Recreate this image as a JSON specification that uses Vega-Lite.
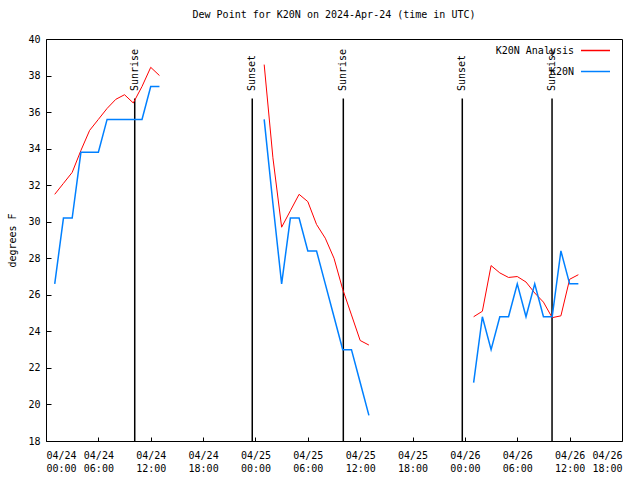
{
  "$schema": "https://vega.github.io/schema/vega-lite/v6.json",
  "width": 576,
  "height": 402,
  "autosize": {"type": "none"},
  "padding": {"left": 46, "top": 39, "right": 18, "bottom": 39},
  "background": "white",
  "title": {"text": "Dew Point for K20N on 2024-Apr-24 (time in UTC)", "font": "DejaVu Sans Mono", "fontSize": 10, "fontWeight": "normal", "color": "black", "anchor": "middle", "offset": 14},
  "config": {
    "view": {"stroke": "black", "strokeWidth": 1},
    "style": {"guide-label": {"lineBreak": "\n"}},
    "axisY": {"tickCount": 11, "tickSize": -5, "domain": false, "grid": false, "tickColor": "black", "labelFont": "DejaVu Sans Mono", "labelFontSize": 10, "labelColor": "black", "labelPadding": 11}
  },
  "datasets": {
    "events": [
      {"t": "2024-04-24T10:10:00Z", "label": "Sunrise"},
      {"t": "2024-04-24T23:38:00Z", "label": "Sunset"},
      {"t": "2024-04-25T10:04:00Z", "label": "Sunrise"},
      {"t": "2024-04-25T23:42:00Z", "label": "Sunset"},
      {"t": "2024-04-26T09:59:00Z", "label": "Sunrise"}
    ],
    "dew": [
      {"t": "2024-04-24T01:00:00Z", "s": "K20N Analysis", "g": 1, "v": 31.5},
      {"t": "2024-04-24T02:00:00Z", "s": "K20N Analysis", "g": 1, "v": 32.1},
      {"t": "2024-04-24T03:00:00Z", "s": "K20N Analysis", "g": 1, "v": 32.7},
      {"t": "2024-04-24T04:00:00Z", "s": "K20N Analysis", "g": 1, "v": 33.9},
      {"t": "2024-04-24T05:00:00Z", "s": "K20N Analysis", "g": 1, "v": 35.0},
      {"t": "2024-04-24T06:00:00Z", "s": "K20N Analysis", "g": 1, "v": 35.6},
      {"t": "2024-04-24T07:00:00Z", "s": "K20N Analysis", "g": 1, "v": 36.2},
      {"t": "2024-04-24T08:00:00Z", "s": "K20N Analysis", "g": 1, "v": 36.7},
      {"t": "2024-04-24T09:00:00Z", "s": "K20N Analysis", "g": 1, "v": 36.95},
      {"t": "2024-04-24T10:00:00Z", "s": "K20N Analysis", "g": 1, "v": 36.5},
      {"t": "2024-04-24T11:00:00Z", "s": "K20N Analysis", "g": 1, "v": 37.4},
      {"t": "2024-04-24T12:00:00Z", "s": "K20N Analysis", "g": 1, "v": 38.45},
      {"t": "2024-04-24T13:00:00Z", "s": "K20N Analysis", "g": 1, "v": 38.0},
      {"t": "2024-04-25T01:00:00Z", "s": "K20N Analysis", "g": 2, "v": 38.6},
      {"t": "2024-04-25T02:00:00Z", "s": "K20N Analysis", "g": 2, "v": 33.5},
      {"t": "2024-04-25T03:00:00Z", "s": "K20N Analysis", "g": 2, "v": 29.7},
      {"t": "2024-04-25T04:00:00Z", "s": "K20N Analysis", "g": 2, "v": 30.6},
      {"t": "2024-04-25T05:00:00Z", "s": "K20N Analysis", "g": 2, "v": 31.5},
      {"t": "2024-04-25T06:00:00Z", "s": "K20N Analysis", "g": 2, "v": 31.1},
      {"t": "2024-04-25T07:00:00Z", "s": "K20N Analysis", "g": 2, "v": 29.85},
      {"t": "2024-04-25T08:00:00Z", "s": "K20N Analysis", "g": 2, "v": 29.1},
      {"t": "2024-04-25T09:00:00Z", "s": "K20N Analysis", "g": 2, "v": 28.0},
      {"t": "2024-04-25T10:00:00Z", "s": "K20N Analysis", "g": 2, "v": 26.3},
      {"t": "2024-04-25T11:00:00Z", "s": "K20N Analysis", "g": 2, "v": 24.9},
      {"t": "2024-04-25T12:00:00Z", "s": "K20N Analysis", "g": 2, "v": 23.5},
      {"t": "2024-04-25T13:00:00Z", "s": "K20N Analysis", "g": 2, "v": 23.25},
      {"t": "2024-04-26T01:00:00Z", "s": "K20N Analysis", "g": 3, "v": 24.8},
      {"t": "2024-04-26T02:00:00Z", "s": "K20N Analysis", "g": 3, "v": 25.1},
      {"t": "2024-04-26T03:00:00Z", "s": "K20N Analysis", "g": 3, "v": 27.6},
      {"t": "2024-04-26T04:00:00Z", "s": "K20N Analysis", "g": 3, "v": 27.2},
      {"t": "2024-04-26T05:00:00Z", "s": "K20N Analysis", "g": 3, "v": 26.95},
      {"t": "2024-04-26T06:00:00Z", "s": "K20N Analysis", "g": 3, "v": 27.0},
      {"t": "2024-04-26T07:00:00Z", "s": "K20N Analysis", "g": 3, "v": 26.7},
      {"t": "2024-04-26T08:00:00Z", "s": "K20N Analysis", "g": 3, "v": 26.1},
      {"t": "2024-04-26T09:00:00Z", "s": "K20N Analysis", "g": 3, "v": 25.6},
      {"t": "2024-04-26T10:00:00Z", "s": "K20N Analysis", "g": 3, "v": 24.75},
      {"t": "2024-04-26T11:00:00Z", "s": "K20N Analysis", "g": 3, "v": 24.85},
      {"t": "2024-04-26T12:00:00Z", "s": "K20N Analysis", "g": 3, "v": 26.85},
      {"t": "2024-04-26T13:00:00Z", "s": "K20N Analysis", "g": 3, "v": 27.1},
      {"t": "2024-04-24T01:00:00Z", "s": "K20N", "g": 1, "v": 26.6},
      {"t": "2024-04-24T02:00:00Z", "s": "K20N", "g": 1, "v": 30.2},
      {"t": "2024-04-24T03:00:00Z", "s": "K20N", "g": 1, "v": 30.2},
      {"t": "2024-04-24T04:00:00Z", "s": "K20N", "g": 1, "v": 33.8},
      {"t": "2024-04-24T05:00:00Z", "s": "K20N", "g": 1, "v": 33.8},
      {"t": "2024-04-24T06:00:00Z", "s": "K20N", "g": 1, "v": 33.8},
      {"t": "2024-04-24T07:00:00Z", "s": "K20N", "g": 1, "v": 35.6},
      {"t": "2024-04-24T08:00:00Z", "s": "K20N", "g": 1, "v": 35.6},
      {"t": "2024-04-24T09:00:00Z", "s": "K20N", "g": 1, "v": 35.6},
      {"t": "2024-04-24T10:00:00Z", "s": "K20N", "g": 1, "v": 35.6},
      {"t": "2024-04-24T11:00:00Z", "s": "K20N", "g": 1, "v": 35.6},
      {"t": "2024-04-24T12:00:00Z", "s": "K20N", "g": 1, "v": 37.4},
      {"t": "2024-04-24T13:00:00Z", "s": "K20N", "g": 1, "v": 37.4},
      {"t": "2024-04-25T01:00:00Z", "s": "K20N", "g": 2, "v": 35.6},
      {"t": "2024-04-25T02:00:00Z", "s": "K20N", "g": 2, "v": 31.0},
      {"t": "2024-04-25T03:00:00Z", "s": "K20N", "g": 2, "v": 26.6},
      {"t": "2024-04-25T04:00:00Z", "s": "K20N", "g": 2, "v": 30.2},
      {"t": "2024-04-25T05:00:00Z", "s": "K20N", "g": 2, "v": 30.2},
      {"t": "2024-04-25T06:00:00Z", "s": "K20N", "g": 2, "v": 28.4},
      {"t": "2024-04-25T07:00:00Z", "s": "K20N", "g": 2, "v": 28.4},
      {"t": "2024-04-25T08:00:00Z", "s": "K20N", "g": 2, "v": 26.6},
      {"t": "2024-04-25T09:00:00Z", "s": "K20N", "g": 2, "v": 24.8},
      {"t": "2024-04-25T10:00:00Z", "s": "K20N", "g": 2, "v": 23.0},
      {"t": "2024-04-25T11:00:00Z", "s": "K20N", "g": 2, "v": 23.0},
      {"t": "2024-04-25T12:00:00Z", "s": "K20N", "g": 2, "v": 21.2},
      {"t": "2024-04-25T13:00:00Z", "s": "K20N", "g": 2, "v": 19.4},
      {"t": "2024-04-26T01:00:00Z", "s": "K20N", "g": 3, "v": 21.2},
      {"t": "2024-04-26T02:00:00Z", "s": "K20N", "g": 3, "v": 24.8},
      {"t": "2024-04-26T03:00:00Z", "s": "K20N", "g": 3, "v": 23.0},
      {"t": "2024-04-26T04:00:00Z", "s": "K20N", "g": 3, "v": 24.8},
      {"t": "2024-04-26T05:00:00Z", "s": "K20N", "g": 3, "v": 24.8},
      {"t": "2024-04-26T06:00:00Z", "s": "K20N", "g": 3, "v": 26.6},
      {"t": "2024-04-26T07:00:00Z", "s": "K20N", "g": 3, "v": 24.8},
      {"t": "2024-04-26T08:00:00Z", "s": "K20N", "g": 3, "v": 26.6},
      {"t": "2024-04-26T09:00:00Z", "s": "K20N", "g": 3, "v": 24.8},
      {"t": "2024-04-26T10:00:00Z", "s": "K20N", "g": 3, "v": 24.8},
      {"t": "2024-04-26T11:00:00Z", "s": "K20N", "g": 3, "v": 28.4},
      {"t": "2024-04-26T12:00:00Z", "s": "K20N", "g": 3, "v": 26.6},
      {"t": "2024-04-26T13:00:00Z", "s": "K20N", "g": 3, "v": 26.6}
    ]
  },
  "layer": [
    {
      "data": {"name": "events"},
      "mark": {"type": "rule", "color": "black", "strokeWidth": 1.5},
      "encoding": {
        "x": {
          "field": "t", "type": "temporal",
          "scale": {"type": "utc", "nice": false, "domain": [1713916800000, 1714154400000]},
          "axis": {"orient": "bottom", "title": null, "domain": false, "grid": false, "tickColor": "black", "values": [1713916800000, 1713938400000, 1713960000000, 1713981600000, 1714003200000, 1714024800000, 1714046400000, 1714068000000, 1714089600000, 1714111200000, 1714132800000, 1714154400000], "format": "%m/%d\n%H:%M", "tickSize": -4, "labelFont": "DejaVu Sans Mono", "labelFontSize": 10, "labelColor": "black", "labelPadding": 13, "labelLineHeight": 13, "labelOverlap": false}
        },
        "y": {
          "datum": 18, "type": "quantitative",
          "scale": {"domain": [18, 40], "nice": false, "zero": false}
        },
        "y2": {"datum": 36.75}
      }
    },
    {
      "data": {"name": "events"},
      "mark": {"type": "text", "angle": 270, "align": "left", "baseline": "middle", "font": "DejaVu Sans Mono", "fontSize": 10, "color": "black"},
      "encoding": {
        "x": {"field": "t", "type": "temporal"},
        "y": {"datum": 37.15, "type": "quantitative"},
        "text": {"field": "label"}
      }
    },
    {
      "data": {"name": "dew"},
      "transform": [{"filter": "datum.s == 'K20N Analysis'"}],
      "mark": {"type": "line", "strokeWidth": 1},
      "encoding": {
        "x": {"field": "t", "type": "temporal"},
        "y": {"field": "v", "type": "quantitative", "axis": {"title": "degrees F", "titleFont": "DejaVu Sans Mono", "titleFontSize": 10, "titleFontWeight": "normal", "titleColor": "black", "titlePadding": 10}},
        "color": {
          "field": "s", "type": "nominal",
          "scale": {"domain": ["K20N Analysis", "K20N"], "range": ["#ff0000", "#0080ff"]},
          "legend": {"orient": "none", "legendX": 534, "legendY": -4, "title": null, "symbolType": "stroke", "symbolSize": 841, "symbolStrokeWidth": 1.5, "labelAlign": "right", "labelOffset": -37, "labelFont": "DejaVu Sans Mono", "labelFontSize": 10, "labelColor": "black", "rowPadding": -24, "padding": 0}
        },
        "detail": {"field": "g", "type": "nominal"}
      }
    },
    {
      "data": {"name": "dew"},
      "transform": [{"filter": "datum.s == 'K20N'"}],
      "mark": {"type": "line", "strokeWidth": 1.5},
      "encoding": {
        "x": {"field": "t", "type": "temporal"},
        "y": {"field": "v", "type": "quantitative"},
        "color": {"field": "s", "type": "nominal"},
        "detail": {"field": "g", "type": "nominal"}
      }
    }
  ]
}
